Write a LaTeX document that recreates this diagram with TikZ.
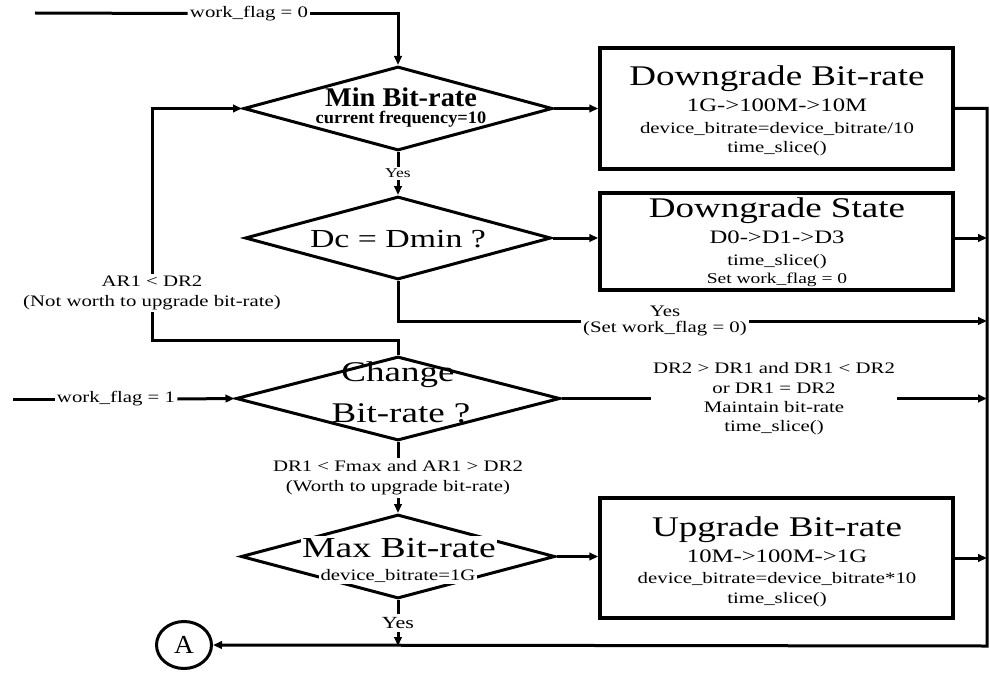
\documentclass[tikz,border=0pt]{standalone}
\usepackage{fontspec}
\setmainfont{Liberation Serif}[FakeStretch=1.3]
\newfontfamily\plainserif{Liberation Serif}[FakeStretch=1.05]
\usetikzlibrary{shapes.geometric,arrows.meta}

% font sizes used in the chart
\newcommand\bigsz{\fontsize{28.5}{30}\selectfont}
\newcommand\midsz{\fontsize{19}{21}\selectfont}
\newcommand\smsz{\fontsize{16}{19.5}\selectfont}

\begin{document}
\begin{tikzpicture}[x=1pt,y=-1pt,
  line width=3pt,
  >={Triangle[length=9pt,width=7.5pt]},
  decision/.style={draw,diamond,line width=3pt,line join=miter,inner sep=0pt},
  actionbox/.style={draw,rectangle,line width=3.5pt,inner sep=0pt,
    minimum width=353pt},
  txt/.style={inner sep=0pt,anchor=base},
  lbl/.style={inner sep=0.8pt,align=center,font=\smsz},
  cover/.style={fill=white,inner sep=1.5pt,anchor=base}]

\useasboundingbox (0,0) rectangle (990,674);

% ---- decisions ----
\node[decision,minimum width=309pt,minimum height=84pt] (d1) at (398,108.5) {};
\node[decision,minimum width=306pt,minimum height=83pt] (d2) at (398,238) {};
\node[decision,minimum width=324pt,minimum height=84pt] (d3) at (398,398.5) {};
\node[decision,minimum width=314pt,minimum height=84pt] (d4) at (398,556.5) {};

\node[txt] (d1a) at (401,106.5) {\plainserif\bfseries\fontsize{27}{28}\selectfont Min Bit-rate};
\node[txt] (d1b) at (401,124) {\plainserif\bfseries\fontsize{17.5}{18}\selectfont current frequency=10};
\node[txt] (d2a) at (398,247) {\fontsize{26}{28}\selectfont Dc = Dmin ?};
\node[txt] (d3a) at (398,381) {\fontsize{28.5}{30}\selectfont Change};
\node[txt] (d3b) at (401,422) {\fontsize{28.5}{30}\selectfont Bit-rate ?};
\node[cover] (d4a) at (399,557) {\fontsize{29}{30}\selectfont Max Bit-rate};
\node[cover] (d4b) at (398,580) {\fontsize{16}{17}\selectfont device\_bitrate=1G};

% ---- action boxes ----
\node[actionbox,minimum height=121pt] (b1) at (776.5,108.5) {};
\node[actionbox,minimum height=97pt] (b2) at (776.5,241.5) {};
\node[actionbox,minimum height=120pt] (b3) at (776.5,558) {};

\node[txt] (b1a) at (777,86) {\bigsz Downgrade Bit-rate};
\node[txt] (b1b) at (777,112) {\midsz 1G->100M->10M};
\node[txt] (b1c) at (777,133) {\smsz device\_bitrate=device\_bitrate/10};
\node[txt] (b1d) at (777,152) {\smsz time\_slice()};

\node[txt] (b2a) at (777,217) {\bigsz Downgrade State};
\node[txt] (b2b) at (777,243) {\midsz D0->D1->D3};
\node[txt] (b2c) at (777,265) {\smsz time\_slice()};
\node[txt] (b2d) at (777,283) {\fontsize{15}{17}\selectfont Set work\_flag = 0};

\node[txt] (b3a) at (777,536) {\bigsz Upgrade Bit-rate};
\node[txt] (b3b) at (777,562) {\midsz 10M->100M->1G};
\node[txt] (b3c) at (777,583) {\smsz device\_bitrate=device\_bitrate*10};
\node[txt] (b3d) at (777,603) {\smsz time\_slice()};

% ---- connector node ----
\node[draw,ellipse,line width=3pt,minimum width=55pt,minimum height=47pt,inner sep=0pt]
  (A) at (184,645) {\plainserif\fontsize{26}{26}\selectfont A};

% ---- edge labels ----
\node[lbl] (wf0) at (249,13.5) {work\_flag = 0};
\node[lbl,font=\fontsize{13.5}{15}\selectfont] (yes1) at (398,173.5) {Yes};
\node[lbl,font=\fontsize{16}{15.5}\selectfont] (yes2) at (665,321) {Yes\\(Set work\_flag = 0)};
\node[lbl,font=\fontsize{16}{20}\selectfont] (nw) at (152,293) {AR1 < DR2\\(Not worth to upgrade bit-rate)};
\node[lbl] (wf1) at (116,399) {work\_flag = 1};
\node[lbl,font=\fontsize{16}{19.3}\selectfont] (maint) at (774,399) {DR2 > DR1 and DR1 < DR2\\or DR1 = DR2\\Maintain bit-rate\\time\_slice()};
\node[lbl,font=\fontsize{16}{20}\selectfont] (worth) at (398,478) {DR1 < Fmax and AR1 > DR2\\(Worth to upgrade bit-rate)};
\node[lbl,font=\fontsize{17}{18}\selectfont,inner sep=2pt] (yes4) at (398,623) {Yes};

% ---- fixed points of the wiring ----
\coordinate (wf0start) at (35,13);
\coordinate (wf1start) at (13,399);
\coordinate (loopR) at (398,340);
\coordinate (busBot) at (987,646);

% ---- connectors ----
\draw (wf0start) -- (wf0.west);
\draw[->] (wf0.east) -| (d1.north);
\draw[->] (d1.east) -- (b1.west |- d1.east);
\draw (d1.south) -- (yes1.north);
\draw[->] (yes1.south) -- (d2.north);
\draw[->] (d2.east) -- (d2.east -| b2.west);
\draw (d2.south) |- (yes2.west);
\draw[->] (yes2.east) -- (yes2.east -| busBot);

\draw (d3.north) -- (loopR) -| (nw.south);
\draw[->] (nw.north) |- (d1.west);

\draw (wf1start) -- (wf1.west);
\draw[->] (wf1.east) -- (d3.west);
\draw (d3.east) -- (maint.west |- d3.east);
\draw[->] (maint.east |- d3.east) -- (d3.east -| busBot);
\draw (d3.south) -- (worth.north);
\draw[->] (worth.south) -- (d4.north);
\draw[->] (d4.east) -- (b3.west |- d4.east);
\draw (d4.south) -- (yes4.north);
\draw[->] (yes4.south) -- (yes4.south |- busBot);

\draw[->] (b2.east |- d2.east) -- (d2.east -| busBot);
\draw[->] (b3.east) -- (b3.east -| busBot);
\draw[->] (b1.east) -| (busBot) -- (A.east);

\end{tikzpicture}
\end{document}
